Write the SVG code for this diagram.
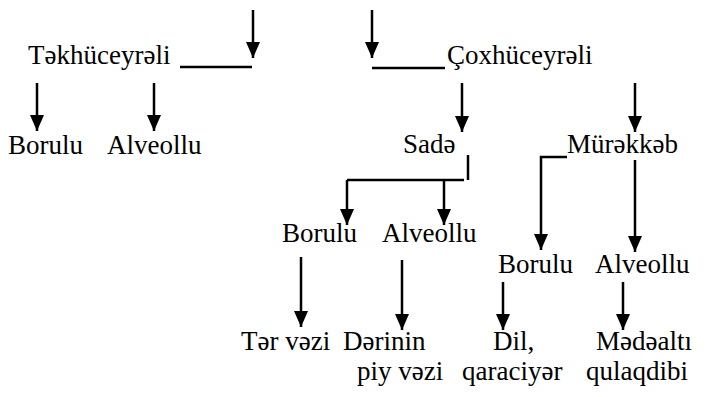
<svg xmlns="http://www.w3.org/2000/svg" width="708" height="397" viewBox="0 0 708 397">
<defs>
<marker id="ah" viewBox="0 0 16 14" refX="16" refY="7" markerWidth="16" markerHeight="14" markerUnits="userSpaceOnUse" orient="auto">
<path d="M0,0 L16,7 L0,14 z" fill="#000"/>
</marker>
<style>
.t{font-family:'Liberation Serif','DejaVu Serif',serif;font-size:27px;fill:#000}
.c{fill:none;stroke:#000;stroke-width:2.5}
.a{marker-end:url(#ah)}
</style>
</defs>
<rect width="708" height="397" fill="#fff"/>
<g id="connectors">
<path class="c a" d="M253,10 V58"/>
<path class="c" d="M180,67 H252"/>
<path class="c a" d="M372,10 V58"/>
<path class="c" d="M372,68 H445"/>
<path class="c a" d="M37,83 V131"/>
<path class="c a" d="M154,83 V131"/>
<path class="c a" d="M462,83 V132"/>
<path class="c a" d="M635,83 V132"/>
<path class="c" d="M468,155 V180"/>
<path class="c" d="M464,180 H347"/>
<path class="c a" d="M347,180 V225"/>
<path class="c a" d="M444,180 V225"/>
<path class="c a" d="M567,157 H541 V250"/>
<path class="c a" d="M635,160 V252"/>
<path class="c a" d="M301,257 V327"/>
<path class="c a" d="M402,260 V330"/>
<path class="c a" d="M503,282 V330"/>
<path class="c a" d="M623,282 V330"/>
</g>
<g id="tekhuceyreli"><text class="t" x="28" y="64">Təkhüceyrəli</text></g>
<g id="coxhuceyreli"><text class="t" x="447" y="64">Çoxhüceyrəli</text></g>
<g id="borulu1"><text class="t" x="8" y="154">Borulu</text></g>
<g id="alveollu1"><text class="t" x="107" y="154">Alveollu</text></g>
<g id="sade"><text class="t" x="403" y="153">Sadə</text></g>
<g id="murekkeb"><text class="t" x="567" y="153">Mürəkkəb</text></g>
<g id="borulu2"><text class="t" x="282" y="242">Borulu</text></g>
<g id="alveollu2"><text class="t" x="382" y="242">Alveollu</text></g>
<g id="borulu3"><text class="t" x="498" y="273">Borulu</text></g>
<g id="alveollu3"><text class="t" x="595" y="273">Alveollu</text></g>
<g id="ter-vezi"><text class="t" x="241" y="350">Tər vəzi</text></g>
<g id="derinin"><text class="t" x="343" y="350">Dərinin</text><text class="t" x="357" y="380">piy vəzi</text></g>
<g id="dil"><text class="t" x="493" y="350">Dil,</text><text class="t" x="462" y="380">qaraciyər</text></g>
<g id="medealti"><text class="t" x="596" y="350">Mədəaltı</text><text class="t" x="586" y="380">qulaqdibi</text></g>
</svg>
